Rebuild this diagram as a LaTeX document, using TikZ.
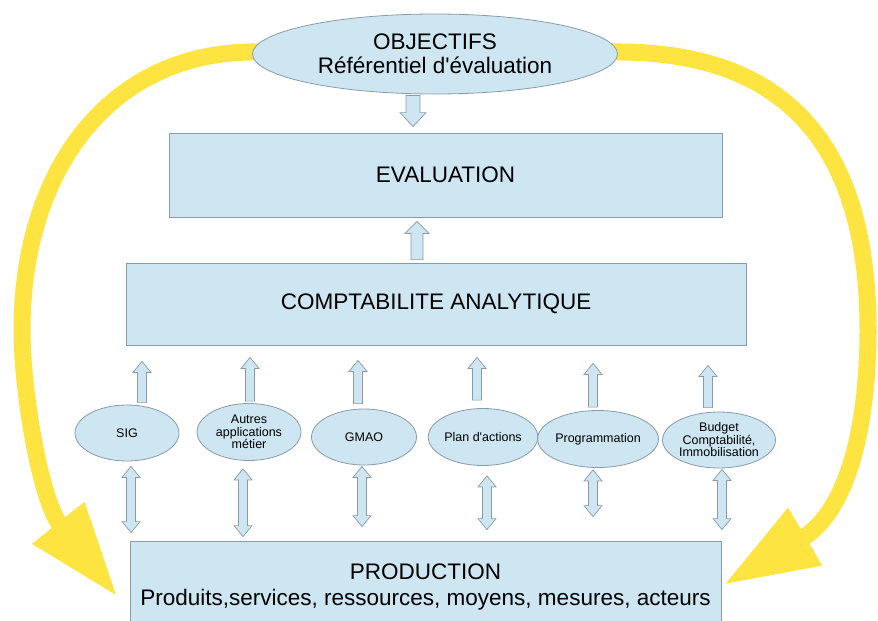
\documentclass[tikz,border=0pt]{standalone}
\usepackage{fontspec}
\setmainfont{Liberation Sans}
\usetikzlibrary{shapes.geometric,calc,arrows.meta}
\definecolor{boxfill}{RGB}{205,230,242}
\definecolor{boxline}{RGB}{138,155,168}
\definecolor{yel}{RGB}{254,228,64}
\pgfdeclarelayer{background}
\pgfsetlayers{background,main}
% single block arrow: base, tip, shaft half width, head half width, head length
\newcommand{\blockarrow}[5]{%
  \draw[barrow] let \p1=(#1), \p2=(#2), \n1={ifthenelse(\y2>\y1,1,-1)} in
  (\x1-#3,\y1) -- (\x1-#3,\y2-\n1*#5) -- (\x1-#4,\y2-\n1*#5) -- (\x1,\y2)
  -- (\x1+#4,\y2-\n1*#5) -- (\x1+#3,\y2-\n1*#5) -- (\x1+#3,\y1) -- cycle;}
% double block arrow: top tip, bottom tip, shaft half width, head half width, head length
\newcommand{\dblarrow}[5]{%
  \draw[barrow] let \p1=(#1), \p2=(#2) in
  (\x1,\y1) -- (\x1+#4,\y1-#5) -- (\x1+#3,\y1-#5) -- (\x1+#3,\y2+#5)
  -- (\x1+#4,\y2+#5) -- (\x1,\y2) -- (\x1-#4,\y2+#5) -- (\x1-#3,\y2+#5)
  -- (\x1-#3,\y1-#5) -- (\x1-#4,\y1-#5) -- cycle;}
\begin{document}
\begin{tikzpicture}[x=1pt,y=-1pt,
  bigbox/.style={draw=boxline,fill=boxfill,line width=0.8pt,inner sep=0pt,
    font=\fontsize{22.5}{26}\selectfont,align=center},
  bigell/.style={ellipse,draw=boxline,fill=boxfill,line width=0.8pt,inner sep=0pt,
    font=\fontsize{22.5}{24}\selectfont,align=center},
  smallell/.style={ellipse,draw=boxline,fill=boxfill,line width=0.8pt,inner sep=0pt,
    font=\fontsize{12.5}{12.5}\selectfont,align=center,minimum width=104pt,minimum height=56pt},
  barrow/.style={draw=boxline,fill=boxfill,line width=0.7pt,line join=miter},
  yarrow/.style={draw=yel,line width=17pt,-{Triangle[length=95pt,width=62pt,fill=yel]}}]
\useasboundingbox (0,0) rectangle (878,621);
% main nodes
\node[bigell,minimum width=365pt,minimum height=80pt] (obj) at (435,54)
  {OBJECTIFS\\Référentiel d\textquotesingle évaluation};
\node[bigbox,minimum width=553pt,minimum height=84pt] (eval) at (445.5,175) {EVALUATION};
\node[bigbox,minimum width=620pt,minimum height=82pt] (compta) at (436,304) {COMPTABILITE ANALYTIQUE};
\node[bigbox,minimum width=591pt,minimum height=92pt] (prod) at (425.5,587)
  {PRODUCTION\\Produits,services, ressources, moyens, mesures, acteurs};
% small ellipses
\node[smallell] (sig) at (127,433) {SIG};
\node[smallell,minimum height=57pt] (autres) at (249,432) {Autres\\applications\\métier};
\node[smallell,minimum width=105pt] (gmao) at (364,437) {GMAO};
\node[smallell,minimum width=103pt,minimum height=57pt] (plan) at (483,437) {Plan d\textquotesingle actions};
\node[smallell,minimum width=100pt,minimum height=57pt] (prog) at (598,439) {Programmation};
\node[smallell,minimum width=105pt] (budget) at (719,440) {Budget\\Comptabilité,\\Immobilisation};
% block arrows between main boxes
\blockarrow{$(obj.south)+(-22,1)$}{$(eval.north)+(0,-6)$}{7}{13}{14}
\blockarrow{$(compta.north)+(-19,-3)$}{$(eval.south)+(0,4)$}{6}{12}{12}
% up arrows ellipses -> comptabilite
\blockarrow{$(sig.north)+(15,-2)$}{$(compta.south)+(0,16)$}{4.5}{9}{11}
\blockarrow{$(autres.north)+(1,-2)$}{$(compta.south)+(0,12)$}{4.5}{9}{11}
\blockarrow{$(gmao.north)+(-6,-5)$}{$(compta.south)+(0,15)$}{4.5}{9}{11}
\blockarrow{$(plan.north)+(-6,-8)$}{$(compta.south)+(0,12)$}{4.5}{9}{11}
\blockarrow{$(prog.north)+(-5,-3)$}{$(compta.south)+(0,18)$}{4.5}{9}{11}
\blockarrow{$(budget.north)+(-11,-4)$}{$(compta.south)+(0,20)$}{4.5}{9}{11}
% double arrows ellipses <-> production
\dblarrow{$(sig.south)+(4,5)$}{$(prod.north)+(0,-8)$}{4.5}{9}{11}
\dblarrow{$(autres.south)+(-6,8)$}{$(prod.north)+(0,-4)$}{4.5}{9}{11}
\dblarrow{$(gmao.south)+(-2,1)$}{$(prod.north)+(0,-14)$}{4.5}{9}{11}
\dblarrow{$(plan.south)+(4,10)$}{$(prod.north)+(0,-11)$}{4.5}{9}{11}
\dblarrow{$(prog.south)+(-5,2)$}{$(prod.north)+(0,-24)$}{4.5}{9}{11}
\dblarrow{$(budget.south)+(3,1)$}{$(prod.north)+(0,-11)$}{4.5}{9}{11}
% yellow feedback arrows
\coordinate (ltip) at ($(prod.west)+(-12,10)$);
\coordinate (rtip) at ($(prod.east)+(2,-2)$);
\begin{pgfonlayer}{background}
\draw[yarrow] ($(obj.west)+(6,-2)$) .. controls (110,50) and (22,170) .. (22,330)
  .. controls (22,390) and (40,500) .. (ltip);
\draw[yarrow] ($(obj.east)+(-6,-2)$) .. controls (790,50) and (868,150) .. (868,330)
  .. controls (868,420) and (850,510) .. (rtip);
\end{pgfonlayer}
\end{tikzpicture}
\end{document}
